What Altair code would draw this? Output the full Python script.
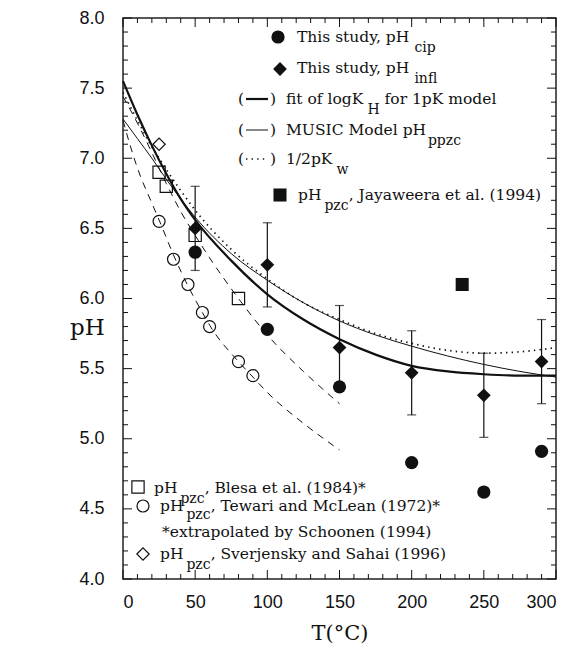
import altair as alt
import pandas as pd

# ---------------- data ----------------
cip_T = [50, 100, 150, 200, 250, 290]
cip_pH = [6.33, 5.78, 5.37, 4.83, 4.62, 4.91]

infl_T = [50, 100, 150, 200, 250, 290]
infl_pH = [6.50, 6.24, 5.65, 5.47, 5.31, 5.55]
infl_err = [0.30, 0.30, 0.30, 0.30, 0.30, 0.30]

jay_T = [235]
jay_pH = [6.10]

blesa_T = [25, 30, 50, 80]
blesa_pH = [6.90, 6.80, 6.45, 6.00]

tewari_T = [25, 35, 45, 55, 60, 80, 90]
tewari_pH = [6.55, 6.28, 6.10, 5.90, 5.80, 5.55, 5.45]

sverj_T = [25]
sverj_pH = [7.10]

fit_T = [0, 10, 20, 30, 40, 50, 75, 100, 125, 150, 175, 200, 225, 250, 275, 300]
fit_pH = [7.55, 7.31, 7.09, 6.89, 6.71, 6.56, 6.27, 6.03, 5.85, 5.71, 5.60, 5.52, 5.48, 5.46, 5.45, 5.45]

music_T = [0, 10, 20, 30, 40, 50, 75, 100, 125, 150, 175, 200, 225, 250, 275, 300]
music_pH = [7.28, 7.14, 7.00, 6.85, 6.71, 6.58, 6.32, 6.13, 5.97, 5.84, 5.74, 5.66, 5.59, 5.53, 5.48, 5.44]

kw_T = [0, 10, 20, 25, 30, 40, 50, 75, 100, 125, 150, 175, 200, 225, 250, 275, 300]
kw_pH = [7.47, 7.27, 7.08, 7.00, 6.92, 6.77, 6.63, 6.35, 6.14, 5.97, 5.85, 5.75, 5.68, 5.63, 5.61, 5.62, 5.65]

blesa_fit_T = [0, 10, 20, 30, 40, 50, 60, 80, 100, 125, 150]
blesa_fit_pH = [7.44, 7.25, 7.04, 6.82, 6.62, 6.45, 6.29, 6.00, 5.74, 5.48, 5.25]

tewari_fit_T = [0, 5, 10, 20, 25, 35, 45, 55, 60, 80, 90, 100, 125, 150]
tewari_fit_pH = [7.27, 7.09, 6.93, 6.68, 6.56, 6.31, 6.09, 5.90, 5.81, 5.55, 5.44, 5.33, 5.11, 4.92]

x_labels = [0, 50, 100, 150, 200, 250, 300]
y_labels = [4.0, 4.5, 5.0, 5.5, 6.0, 6.5, 7.0, 7.5, 8.0]

# ---------------- layout ----------------
W, H = 433, 561
SERIF = "DejaVu Serif"
SANS = "Liberation Sans"
INK = "#111111"
FS = 15.5   # legend text size
SUB = 14    # subscript size

xs = alt.Scale(domain=[0, 300], nice=False, zero=False)
ys = alt.Scale(domain=[4, 8], nice=False, zero=False)

x_axis = alt.Axis(values=x_labels, format="d", ticks=False, domain=False, grid=False,
                  labelFont=SANS, labelFontSize=18, labelColor=INK, labelPadding=14,
                  title="T(°C)", titleFont=SERIF, titleFontSize=21, titleFontWeight="normal",
                  titleColor=INK, titleBaseline="middle", titleY=54)
y_axis = alt.Axis(values=y_labels, format=".1f", ticks=False, domain=False, grid=False,
                  labelFont=SANS, labelFontSize=18, labelColor=INK, labelPadding=19,
                  title="pH", titleFont=SERIF, titleFontSize=23, titleFontWeight="normal",
                  titleColor=INK, titleAngle=0, titleAlign="center", titleBaseline="middle",
                  titleX=-36, titleY=309)


def df(T, pH):
    return pd.DataFrame({"T": T, "pH": pH})


def xe():
    return alt.X("T:Q", scale=xs, axis=x_axis)


def ye(field="pH"):
    return alt.Y(f"{field}:Q", scale=ys, axis=y_axis)


layers = []

# lines
layers.append(alt.Chart(df(fit_T, fit_pH)).mark_line(color=INK, strokeWidth=2.2, interpolate="monotone")
              .encode(x=xe(), y=ye()))
layers.append(alt.Chart(df(music_T, music_pH)).mark_line(color=INK, strokeWidth=1.0, interpolate="monotone")
              .encode(x=xe(), y=ye()))
layers.append(alt.Chart(df(kw_T, kw_pH)).mark_line(color=INK, strokeWidth=1.7, strokeDash=[1.4, 4.2],
                                                   interpolate="monotone")
              .encode(x=xe(), y=ye()))
layers.append(alt.Chart(df(blesa_fit_T, blesa_fit_pH)).mark_line(color=INK, strokeWidth=1.0, strokeDash=[7, 6],
                                                                 interpolate="monotone")
              .encode(x=xe(), y=ye()))
layers.append(alt.Chart(df(tewari_fit_T, tewari_fit_pH)).mark_line(color=INK, strokeWidth=1.0, strokeDash=[7, 6],
                                                                   interpolate="monotone")
              .encode(x=xe(), y=ye()))

# error bars
err = pd.DataFrame({"T": infl_T,
                    "lo": [p - e for p, e in zip(infl_pH, infl_err)],
                    "hi": [p + e for p, e in zip(infl_pH, infl_err)]})
layers.append(alt.Chart(err).mark_rule(color=INK, strokeWidth=1.2)
              .encode(x=xe(), y=ye("lo"), y2="hi:Q"))
layers.append(alt.Chart(err).mark_tick(color=INK, orient="horizontal", size=9, thickness=1.2)
              .encode(x=xe(), y=ye("lo")))
layers.append(alt.Chart(err).mark_tick(color=INK, orient="horizontal", size=9, thickness=1.2)
              .encode(x=xe(), y=ye("hi")))


def pts(T, pH, shape, filled, size):
    if filled:
        m = alt.Chart(df(T, pH)).mark_point(shape=shape, filled=True, size=size, color=INK, opacity=1)
    else:
        m = alt.Chart(df(T, pH)).mark_point(shape=shape, filled=False, size=size, color=INK,
                                            strokeWidth=1.2, opacity=1)
    return m.encode(x=xe(), y=ye())


layers.append(pts(blesa_T, blesa_pH, "square", False, 150))
layers.append(pts(tewari_T, tewari_pH, "circle", False, 144))
layers.append(pts(sverj_T, sverj_pH, "diamond", False, 150))
layers.append(pts(cip_T, cip_pH, "circle", True, 175))
layers.append(pts(infl_T, infl_pH, "diamond", True, 190))
layers.append(pts(jay_T, jay_pH, "square", True, 170))

# inward ticks on all four sides
x_major = [0, 50, 100, 150, 200, 250, 300]
x_minor = [t for t in range(0, 301, 10) if t % 50 != 0]
y_major = [4.0, 4.5, 5.0, 5.5, 6.0, 6.5, 7.0, 7.5, 8.0]
y_minor = [round(4 + i * 0.1, 1) for i in range(41) if i % 5 != 0]


def xticks(vals, ln):
    d = pd.DataFrame({"T": vals})
    b = alt.Chart(d).mark_rule(color=INK, strokeWidth=1).encode(x=xe(), y=alt.value(H), y2=alt.value(H - ln))
    t = alt.Chart(d).mark_rule(color=INK, strokeWidth=1).encode(x=xe(), y=alt.value(0), y2=alt.value(ln))
    return [b, t]


def yticks(vals, ln):
    d = pd.DataFrame({"pH": vals})
    l = alt.Chart(d).mark_rule(color=INK, strokeWidth=1).encode(y=ye(), x=alt.value(0), x2=alt.value(ln))
    r = alt.Chart(d).mark_rule(color=INK, strokeWidth=1).encode(y=ye(), x=alt.value(W - ln), x2=alt.value(W))
    return [l, r]


layers += xticks(x_major, 9) + xticks(x_minor, 5) + yticks(y_major, 9) + yticks(y_minor, 5)

# ---------------- legend annotations ----------------
one = pd.DataFrame({"a": [0]})

EM = {" ": .32, ",": .32, ".": .32, "(": .39, ")": .39, "*": .5, "/": .34,
      "H": .87, "K": .80, "M": 1.0, "U": .81, "S": .69, "I": .43, "C": .73, "T": .68,
      "B": .74, "J": .47, "W": 1.1, "R": .78, "D": .80, "E": .72}
LOW = {"a": .60, "b": .64, "c": .56, "d": .64, "e": .59, "f": .37, "g": .64, "h": .64, "i": .32,
       "j": .32, "k": .60, "l": .32, "m": .95, "n": .64, "o": .60, "p": .64, "q": .64, "r": .48,
       "s": .51, "t": .40, "u": .64, "v": .57, "w": .85, "x": .57, "y": .57, "z": .53}


def tw(s, size):
    w = 0.0
    for ch in s:
        if ch in EM:
            w += EM[ch]
        elif ch in LOW:
            w += LOW[ch]
        elif ch.isdigit():
            w += .64
        else:
            w += .65
    return w * size


def txt(s, x, y, size=FS):
    return alt.Chart(one).mark_text(text=s, align="left", baseline="alphabetic", font=SERIF,
                                    fontSize=size, color=INK).encode(x=alt.value(x), y=alt.value(y))


def sym(shape, filled, size, x, y):
    if filled:
        m = alt.Chart(one).mark_point(shape=shape, filled=True, size=size, color=INK, opacity=1)
    else:
        m = alt.Chart(one).mark_point(shape=shape, filled=False, size=size, color=INK, strokeWidth=1.2, opacity=1)
    return m.encode(x=alt.value(x), y=alt.value(y))


def row(frags, x, base, sub_drop=10):
    out = []
    prev = None
    for s, kind in frags:
        if kind == "s":
            x += 3
            out.append(txt(s, x, base + sub_drop, SUB))
            x += tw(s, SUB)
        else:
            if prev == "s" and not s.startswith(","):
                x += tw(" ", FS)
            out.append(txt(s, x, base, FS))
            x += tw(s, FS)
        prev = kind
    return out


def line_key(base, **style):
    return [txt("(", 115, base), txt(")", 147, base),
            alt.Chart(one).mark_rule(color=INK, **style)
            .encode(x=alt.value(123), x2=alt.value(145), y=alt.value(base - 5))]


layers += [sym("circle", True, 175, 155, 19)] + row([("This study, pH", "n"), ("cip", "s")], 174, 24)
layers += [sym("diamond", True, 190, 157, 51)] + row([("This study, pH", "n"), ("infl", "s")], 174, 55)
layers += line_key(86, strokeWidth=2.2) + row([("fit of logK", "n"), ("H", "s"), ("for 1pK model", "n")], 163, 86)
layers += line_key(117, strokeWidth=1.0) + row([("MUSIC Model pH", "n"), ("ppzc", "s")], 163, 117)
layers += line_key(146, strokeWidth=1.7, strokeDash=[1.4, 4.2]) + row([("1/2pK", "n"), ("w", "s")], 163, 146)
layers += [sym("square", True, 170, 157, 177)] + row(
    [("pH", "n"), ("pzc", "s"), (", Jayaweera et al. (1994)", "n")], 175, 182)

layers += [sym("square", False, 150, 15, 469)] + row(
    [("pH", "n"), ("pzc", "s"), (", Blesa et al. (1984)*", "n")], 31, 475)
layers += [sym("circle", False, 144, 20, 488)] + row(
    [("pH", "n"), ("pzc", "s"), (", Tewari and McLean (1972)*", "n")], 37, 493, 8)
layers += [txt("*extrapolated by Schoonen (1994)", 39, 519)]
layers += [sym("diamond", False, 150, 20, 536)] + row(
    [("pH", "n"), ("pzc", "s"), (", Sverjensky and Sahai (1996)", "n")], 37, 541)

chart = alt.layer(*layers).properties(
    width=W, height=H,
    autosize=alt.AutoSizeParams(type="none"),
    padding={"left": 115, "top": 10, "right": 20, "bottom": 68},
    background="white",
).configure_view(stroke="#222222", strokeWidth=1.5)

chart.save("out.html", embed_options={"renderer": "svg", "actions": False})
